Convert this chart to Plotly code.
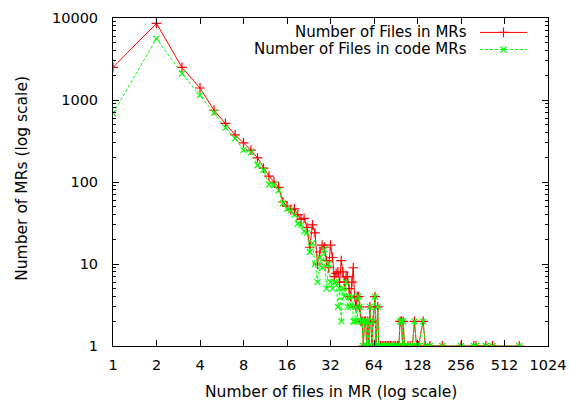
import plotly.graph_objects as go

# ---- data ----
files_head = list(range(1, 47))
all_mrs_head = [2500, 8600, 2500, 1400, 750, 520, 375, 300, 245, 197,
                148, 118, 100, 86, 57, 51, 46, 47, 40, 35,
                36, 28, 16, 30, 24, 10, 14, 17, 16, 11,
                9, 17, 12, 7, 7.7, 8, 6, 11, 8, 6,
                7, 7, 5, 4, 6, 9]
code_mrs_head = [690, 5600, 2100, 1150, 700, 460, 340, 245, 230, 160,
                 140, 93, 92, 79, 55, 47, 45, 40, 31, 30,
                 25, 24, 14, 18, 10, 6, 12, 9, 15, 5,
                 10, 6, 5, 6, 6, 3, 5, 2, 5, 4,
                 6, 3, 4, 3, 4, 2]

files_tail = [47, 48, 49, 50, 51, 52, 53, 54, 55, 56, 57, 58, 59, 60, 62, 63, 65,
              66, 68, 69, 71, 73, 75, 77, 79, 81, 83, 85, 88, 90, 93, 95, 97, 99,
              101, 102, 104, 110, 114, 118, 122, 126, 130, 140, 145, 156, 190,
              256, 314, 325, 380, 423, 647]
all_mrs_tail = [4, 3, 4, 4, 3, 2, 2, 1, 2, 2, 1, 2, 1, 3, 1, 2, 4,
                1, 3, 1, 1, 1, 1, 1, 1, 1, 1, 1, 1, 1, 1, 1, 2, 2,
                1, 2, 1, 1, 1, 1, 2, 1, 1, 2, 1, 1, 1,
                1, 1, 1, 1, 1, 1]
code_mrs_tail = [2, 3, 2, 4, 3, 2, 2, 1, 2, 2, 1, 2, 1, 3, 1, 2, 4,
                 1, 3, 1, 1, 1, 1, 1, 1, 1, 1, 1, 1, 1, 1, 1, 2, 2,
                 1, 2, 1, 1, 1, 1, 2, 1, 1, 2, 1, 1, 1,
                 1, 1, 1, 1, 1, 1]

files = files_head + files_tail
all_mrs = all_mrs_head + all_mrs_tail
code_mrs = code_mrs_head + code_mrs_tail

x_ticks = [1, 2, 4, 8, 16, 32, 64, 128, 256, 512, 1024]
y_ticks = [1, 10, 100, 1000, 10000]
series_names = ["Number of Files in MRs", "Number of Files in code MRs"]
x_title = "Number of files in MR (log scale)"
y_title = "Number of MRs (log scale)"

RED = "#ff0000"
GREEN = "#00ff00"
FONT = "DejaVu Sans, Liberation Sans, sans-serif"
TICK_FS = 14.5
TITLE_FS = 15.5
KEY_FS = 15

fig = go.Figure()
fig.add_trace(go.Scatter(
    x=files, y=all_mrs, mode="lines+markers", name=series_names[0],
    line=dict(color=RED, width=1),
    marker=dict(symbol="cross-thin-open", size=7, color=RED,
                line=dict(color=RED, width=1.2)),
))
fig.add_trace(go.Scatter(
    x=files, y=code_mrs, mode="lines+markers", name=series_names[1],
    line=dict(color=GREEN, width=1, dash="3px,2px"),
    marker=dict(symbol="x-thin-open", size=6, color=GREEN,
                line=dict(color=GREEN, width=1.2)),
))

# key (gnuplot style: text then sample) drawn on an overlay unit axis
key_y = [0.956, 0.904]
key_styles = [
    (RED, "solid", "cross-thin-open", 7),
    (GREEN, "3px,2px", "x-thin-open", 6),
]
for ky, (col, dash, sym, sz) in zip(key_y, key_styles):
    fig.add_trace(go.Scatter(
        x=[0.8437, 0.9517], y=[ky, ky], xaxis="x2", yaxis="y2",
        mode="lines", line=dict(color=col, width=1, dash=dash),
        showlegend=False, hoverinfo="skip"))
    fig.add_trace(go.Scatter(
        x=[0.8977], y=[ky], xaxis="x2", yaxis="y2", mode="markers",
        marker=dict(symbol=sym, size=sz, color=col,
                    line=dict(color=col, width=1.2)),
        showlegend=False, hoverinfo="skip"))

for name, ky in zip(series_names, key_y):
    fig.add_annotation(x=0.818, y=ky, xref="x2", yref="y2", text=name,
                       showarrow=False, xanchor="right", yanchor="middle",
                       font=dict(family=FONT, size=KEY_FS, color="black"))

# axis titles
fig.add_annotation(x=0.5, y=-0.14, xref="paper", yref="paper", text=x_title,
                   showarrow=False, xanchor="center", yanchor="middle",
                   font=dict(family=FONT, size=TITLE_FS, color="black"))
fig.add_annotation(x=-0.209, y=0.51, xref="paper", yref="paper", text=y_title,
                   showarrow=False, xanchor="center", yanchor="middle",
                   textangle=-90,
                   font=dict(family=FONT, size=TITLE_FS, color="black"))

minor_y = [m * 10 ** e for e in range(0, 4) for m in range(2, 10)]

fig.update_layout(
    width=570, height=401,
    margin=dict(l=113, r=22, t=18, b=55, autoexpand=False),
    paper_bgcolor="white", plot_bgcolor="white",
    showlegend=False,
    font=dict(family=FONT, size=TICK_FS, color="black"),
    xaxis=dict(
        type="log", range=[0, 3.0103], tickmode="array",
        tickvals=x_ticks, ticktext=[str(v) for v in x_ticks],
        ticks="inside", ticklen=6, tickcolor="black",
        showline=True, linecolor="black", linewidth=1, mirror="allticks",
        showgrid=False, zeroline=False, automargin=False,
        tickfont=dict(family=FONT, size=TICK_FS),
        ticklabelstandoff=6,
    ),
    yaxis=dict(
        type="log", range=[0, 4], tickmode="array",
        tickvals=y_ticks, ticktext=[str(v) for v in y_ticks],
        ticks="inside", ticklen=6, tickcolor="black",
        minor=dict(tickmode="array", tickvals=minor_y, ticks="inside",
                   ticklen=3, tickcolor="black", showgrid=False),
        showline=True, linecolor="black", linewidth=1, mirror="allticks",
        showgrid=False, zeroline=False, automargin=False,
        tickfont=dict(family=FONT, size=TICK_FS),
        ticklabelstandoff=11,
    ),
    xaxis2=dict(overlaying="x", range=[0, 1], visible=False, anchor="y2",
                automargin=False),
    yaxis2=dict(overlaying="y", range=[0, 1], visible=False, anchor="x2",
                automargin=False),
)

fig.write_html(
    "out.html",
    config={"displayModeBar": False},
    post_script="document.body.style.margin='0';document.body.style.overflow='hidden';",
)
